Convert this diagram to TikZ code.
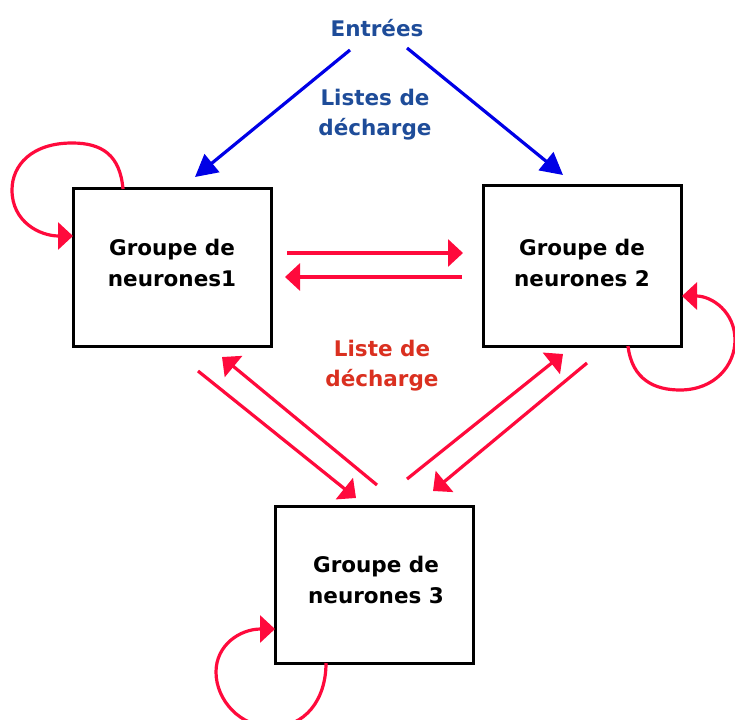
\documentclass[tikz,border=0pt]{standalone}
\usepackage{fontspec}
\setmainfont{DejaVu Sans}
\usetikzlibrary{arrows.meta,calc}
\definecolor{redline}{RGB}{255,10,60}
\definecolor{bluelne}{RGB}{0,0,230}
\definecolor{bluetxt}{RGB}{30,76,153}
\definecolor{redtxt}{RGB}{218,48,32}
\tikzset{
  grpbox/.style={draw=black,line width=3pt,minimum width=198pt,minimum height=157pt,inner sep=0pt},
  grptxt/.style={align=center,font=\bfseries\fontsize{21.5}{31}\selectfont,text=black},
  lbltxt/.style={align=center,font=\bfseries\fontsize{21.5}{30}\selectfont},
  redarr/.style={draw=redline,line width=3.2pt,-{Triangle[length=15pt,width=27pt]}},
  bluearr/.style={draw=bluelne,line width=3.2pt,-{Triangle[length=22pt,width=23pt]}},
}
\begin{document}
\begin{tikzpicture}[x=1pt,y=-1pt]
\useasboundingbox (0,0) rectangle (735,719);
% boxes
\node[grpbox] (g1) at (172,267.5) {};
\node[grpbox,minimum height=160pt] (g2) at (582.5,266) {};
\node[grpbox] (g3) at (374.5,584.5) {};
\node[grptxt] (t1) at (172,262.5) {Groupe de\\neurones1};
\node[grptxt] (t2) at (582,262.5) {Groupe de\\neurones 2};
\node[grptxt] (t3) at (376,580) {Groupe de\\neurones 3};
% labels
\node[lbltxt,text=bluetxt] (ent) at (377,28) {Entrées};
\node[lbltxt,text=bluetxt] (ld1) at (375,115) {Listes de\\décharge};
\node[lbltxt,text=redtxt] (ld2) at (382,366) {Liste de\\décharge};
% blue arrows
\coordinate (eL) at (350,50);
\coordinate (eR) at (407,48);
\coordinate (in1) at (195,177);
\coordinate (in2) at (563,175);
\draw[bluearr] (eL) -- (in1);
\draw[bluearr] (eR) -- (in2);
% red arrows between groups
\coordinate (a12s) at (287,253); \coordinate (a12e) at (463,253);
\coordinate (a21s) at (462,277); \coordinate (a21e) at (285,277);
\coordinate (a13s) at (198,371); \coordinate (a13e) at (356,498);
\coordinate (a31s) at (377,485); \coordinate (a31e) at (222,357);
\coordinate (a32s) at (407,479); \coordinate (a32e) at (563,354);
\coordinate (a23s) at (587,363); \coordinate (a23e) at (433,491);
\draw[redarr] (a12s) -- (a12e);
\draw[redarr] (a21s) -- (a21e);
\draw[redarr] (a13s) -- (a13e);
\draw[redarr] (a31s) -- (a31e);
\draw[redarr] (a32s) -- (a32e);
\draw[redarr] (a23s) -- (a23e);
% self loops
\coordinate (l1s) at (123,189); \coordinate (l1e) at (73,236);
\draw[redarr] (l1s) .. controls (120,155) and (102,143) .. (72,143)
  .. controls (32,143) and (12,165) .. (12,190)
  .. controls (12,222) and (40,236) .. (l1e);
\coordinate (l2s) at (628,346); \coordinate (l2e) at (682,296);
\draw[redarr] (l2s) .. controls (632,380) and (655,390) .. (680,390)
  .. controls (715,390) and (735,365) .. (735,340)
  .. controls (735,312) and (712,296) .. (l2e);
\coordinate (l3s) at (326,663); \coordinate (l3e) at (275,629);
\draw[redarr] (l3s) .. controls (326,700) and (305,727) .. (272,727)
  .. controls (240,727) and (216,700) .. (216,672)
  .. controls (216,645) and (240,629) .. (l3e);
\end{tikzpicture}
\end{document}
